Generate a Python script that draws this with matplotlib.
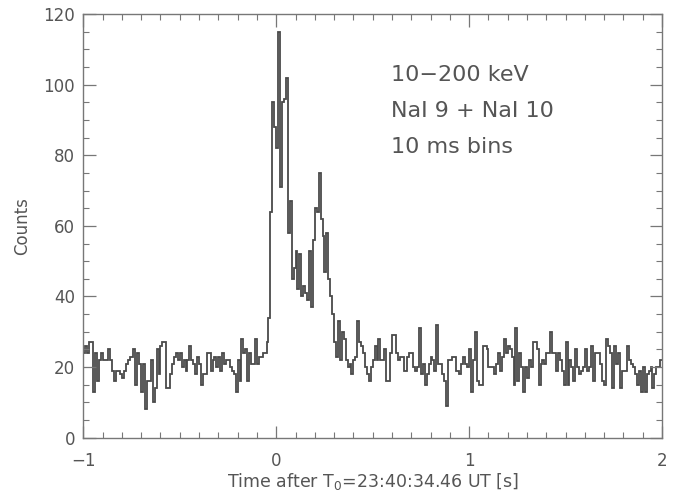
import numpy as np
import matplotlib
matplotlib.use("Agg")
from matplotlib import pyplot as plt
from matplotlib.ticker import MultipleLocator

# 10 ms bins from -1 s to 2 s
t_start = -1.0
bin_width = 0.01

counts_pre = [
    24, 26, 24, 27, 27, 13, 24, 16, 22, 24,
    22, 22, 22, 25, 22, 19, 16, 19, 19, 18,
    17, 19, 21, 22, 23, 23, 25, 15, 24, 21,
    13, 21, 8, 16, 16, 22, 10, 14, 25, 18,
    26, 27, 27, 14, 14, 18, 21, 23, 24, 22,
    24, 20, 22, 19, 22, 26, 22, 21, 18, 23,
    21, 15, 18, 18, 24, 24, 19, 22, 23, 20,
    23, 19, 24, 21, 22, 22, 20, 19, 18, 13,
    22, 16, 28, 24, 25, 16, 24, 21, 21, 28,
    21, 23, 23, 24, 24, 27,
]
counts_burst = [
    34, 64, 95, 88,
    82, 115, 71, 95, 96, 102, 58, 67, 45, 48,
    53, 42, 52, 40, 43, 41, 39, 53, 37, 56,
    65, 64, 75, 62, 57, 47, 58, 45, 40, 35,
    27, 23, 33, 22, 30, 28, 22, 20, 21, 18,
]
counts_post = [
    22, 23, 33, 27, 26, 24, 20, 18, 16, 20,
    22, 26, 22, 28, 22, 22, 25, 16, 16, 24,
    29, 29, 24, 22, 23, 23, 19, 19, 23, 24,
    24, 20, 19, 20, 31, 18, 21, 15, 18, 21,
    23, 22, 19, 32, 21, 21, 18, 16, 9, 22,
    22, 23, 23, 19, 19, 18, 21, 23, 21, 20,
    25, 13, 22, 30, 16, 15, 15, 26, 26, 25,
    20, 20, 20, 18, 21, 24, 19, 23, 28, 24,
    26, 25, 23, 15, 31, 16, 24, 20, 13, 20,
    17, 22, 20, 27, 27, 25, 15, 21, 22, 21,
    24, 24, 30, 24, 24, 19, 24, 22, 19, 15,
    27, 15, 22, 20, 16, 25, 20, 18, 19, 20,
    25, 19, 20, 26, 16, 24, 24, 24, 21, 16,
    15, 28, 26, 24, 14, 26, 21, 24, 14, 19,
    19, 19, 26, 22, 21, 20, 18, 15, 19, 13,
    20, 13, 18, 19, 20, 14, 18, 20, 20, 22,
]

info_lines = ["10\u2212200 keV", "NaI 9 + NaI 10", "10 ms bins"]

counts = np.array(counts_pre + counts_burst + counts_post)
edges = t_start + bin_width * np.arange(len(counts) + 1)

plt.rcParams['font.family'] = ['DejaVu Sans']
grey = '#555555'

fig = plt.figure(figsize=(6.94, 4.98), dpi=100)
ax = fig.add_axes([0.12, 0.121, 0.834, 0.851])

ax.stairs(counts, edges, baseline=None, color='#4a4a4a', linewidth=1.3)

ax.set_xlim(-1, 2)
ax.set_ylim(0, 120)
ax.xaxis.set_major_locator(MultipleLocator(1))
ax.xaxis.set_minor_locator(MultipleLocator(0.1))
ax.yaxis.set_major_locator(MultipleLocator(20))
ax.yaxis.set_minor_locator(MultipleLocator(5))
ax.tick_params(which='both', direction='in', top=True, right=True,
               color='#777777', labelcolor=grey, labelsize=12)
ax.tick_params(which='major', length=9, width=0.9)
ax.tick_params(which='minor', length=4.5, width=0.8)
ax.tick_params(axis='x', pad=10)
ax.tick_params(axis='y', pad=6)
ax.set_xticks([-1, 0, 1, 2], ['\u22121', '0', '1', '2'])
for s in ax.spines.values():
    s.set_color('#777777')
    s.set_linewidth(1.0)

ax.set_xlabel('Time after T$_\\mathregular{0}$=23:40:34.46 UT [s]',
              color=grey, fontsize=12.5, labelpad=1)
ax.set_ylabel('Counts', color=grey, fontsize=12, labelpad=9)

for k, line in enumerate(info_lines):
    ax.text(0.532, 0.855 - k * 0.085, line, transform=ax.transAxes,
            color=grey, fontsize=16, va='center', ha='left')

fig.savefig('out.png', dpi=100)
